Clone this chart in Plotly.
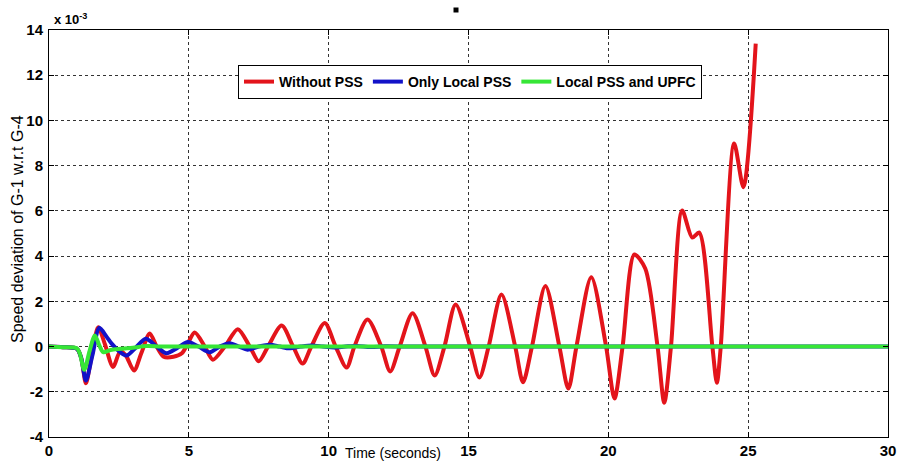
import plotly.graph_objects as go

# ---- data (speed deviation, units of 1e-3) ----
t_red = [0, 0.5, 1.0, 1.15, 1.32, 1.5, 1.76, 2.0, 2.29, 2.55, 2.75, 3.04, 3.3, 3.6, 3.85,
         4.1, 4.45, 4.75, 4.95, 5.21, 5.57, 5.86, 6.29, 6.75, 7.18, 7.5, 7.83, 8.32, 8.73,
         9.07, 9.38, 9.86, 10.25, 10.64, 10.92, 11.39, 11.88, 12.2, 12.54, 13.0, 13.46,
         13.79, 14.14, 14.54, 15.06, 15.39, 15.72, 16.18, 16.67, 16.95, 17.27, 17.75,
         18.25, 18.57, 18.86, 19.39, 19.92, 20.22, 20.51, 20.93, 21.32, 21.76, 22.0,
         22.24, 22.64, 23.0, 23.25, 23.72, 23.88, 24.02, 24.5, 24.83, 25.27]
v_red = [0, -0.03, -0.1, -0.5, -1.62, -0.6, 0.85, 0.1, -0.9, -0.2, -0.4, -1.06, -0.3, 0.58, 0.0,
         -0.45, -0.45, -0.3, 0.1, 0.62, 0, -0.58, 0, 0.77, 0, -0.65, 0, 0.93, 0,
         -0.75, 0, 1.04, 0, -0.93, 0, 1.2, 0, -1.1, 0, 1.47, 0,
         -1.28, 0, 1.86, 0, -1.37, 0, 2.3, 0, -1.58, 0, 2.68,
         0, -1.86, 0, 3.07, 0, -2.3, 0, 4.07, 3.45, 0, -2.48,
         0, 6.02, 4.82, 5.04, 0, -1.6, 0, 8.98, 7.05, 13.4]

t_blue = [0, 0.5, 1.0, 1.15, 1.32, 1.55, 1.8, 2.05, 2.24, 2.5, 2.77, 3.1, 3.46, 3.85, 4.2,
          4.6, 4.97, 5.35, 5.75, 6.1, 6.46, 6.8, 7.1, 7.5, 7.9, 8.25, 8.6, 9.0, 9.4, 9.8,
          10.2, 10.6, 11.0, 11.5, 12.0, 13.0, 30.0]
v_blue = [0, -0.03, -0.1, -0.5, -1.5, -0.4, 0.83, 0.45, 0.13, -0.2, -0.4, -0.05, 0.34, 0, -0.3,
          -0.05, 0.2, 0, -0.25, 0, 0.15, 0, -0.14, 0, 0.08, 0, -0.08, 0, 0.05, 0,
          -0.04, 0, 0.03, -0.02, 0.01, 0, 0]

t_green = [0, 0.5, 1.0, 1.1, 1.26, 1.45, 1.64, 1.8, 1.94, 2.2, 2.6, 3.0, 3.5, 4.0, 5.0, 30.0]
v_green = [0, -0.03, -0.08, -0.3, -1.03, -0.2, 0.49, 0.05, -0.25, -0.15, -0.1, -0.05, 0.02, 0, 0, 0]

x_ticks = [0, 5, 10, 15, 20, 25, 30]
y_ticks = [-4, -2, 0, 2, 4, 6, 8, 10, 12, 14]

names = ["Without PSS", "Only Local PSS", "Local PSS and UPFC"]
colors = ["#e3141b", "#1212c8", "#36e636"]

FONT = "Liberation Sans, Arial, sans-serif"

fig = go.Figure()
for t, v, n, c in zip([t_red, t_blue, t_green], [v_red, v_blue, v_green], names, colors):
    fig.add_trace(go.Scatter(x=t, y=v, mode="lines", name=n,
                             line=dict(color=c, width=4, shape="spline", smoothing=0.8)))

L, R, T, B = 49, 9, 30, 24
W, H = 897, 461

axis_common = dict(showline=True, linecolor="black", linewidth=1, mirror="ticks",
                   ticks="inside", ticklen=5, tickcolor="black",
                   showgrid=True, gridcolor="#333333", griddash="dot", gridwidth=1,
                   zeroline=False, automargin=False,
                   tickfont=dict(family=FONT, size=15, color="black", weight="bold"))

fig.update_xaxes(range=[0, 30], tickvals=x_ticks, ticktext=[str(v) for v in x_ticks], **axis_common)
fig.update_yaxes(range=[-4, 14], tickvals=y_ticks, ticktext=[str(v) for v in y_ticks],
                 ticklabelstandoff=2, **axis_common)

pw = W - L - R
ph = H - T - B

fig.update_layout(
    width=W, height=H,
    margin=dict(l=L, r=R, t=T, b=B, autoexpand=False),
    plot_bgcolor="white", paper_bgcolor="white",
    showlegend=True,
    legend=dict(orientation="h", x=(238 - L) / pw, y=1 - (65 - T) / ph,
                xanchor="left", yanchor="top",
                bgcolor="white", bordercolor="black", borderwidth=1,
                font=dict(family=FONT, size=14, color="black", weight="bold"),
                itemwidth=30, tracegroupgap=0),
    annotations=[
        dict(text="Time (seconds)", xref="paper", yref="paper",
             x=(393 - L) / pw, y=(H - B - 453) / ph, xanchor="center", yanchor="middle",
             showarrow=False, font=dict(family=FONT, size=14, color="black")),
        dict(text="Speed deviation of G-1 w.r.t G-4", xref="paper", yref="paper",
             x=(17 - L) / pw, y=(H - B - 229) / ph, xanchor="center", yanchor="middle",
             textangle=-90, showarrow=False, font=dict(family=FONT, size=16, color="black")),
        dict(text="x 10<sup>-3</sup>", xref="paper", yref="paper",
             x=(52 - L) / pw, y=(H - B - 19) / ph, xanchor="left", yanchor="middle",
             showarrow=False, font=dict(family=FONT, size=13, color="black", weight="bold")),
    ],
    shapes=[
        dict(type="rect", xref="paper", yref="paper",
             x0=(453.5 - L) / pw, x1=(458.5 - L) / pw,
             y0=(H - B - 12.5) / ph, y1=(H - B - 7.5) / ph,
             fillcolor="black", line=dict(width=0)),
    ],
)

fig.write_html("out.html")
